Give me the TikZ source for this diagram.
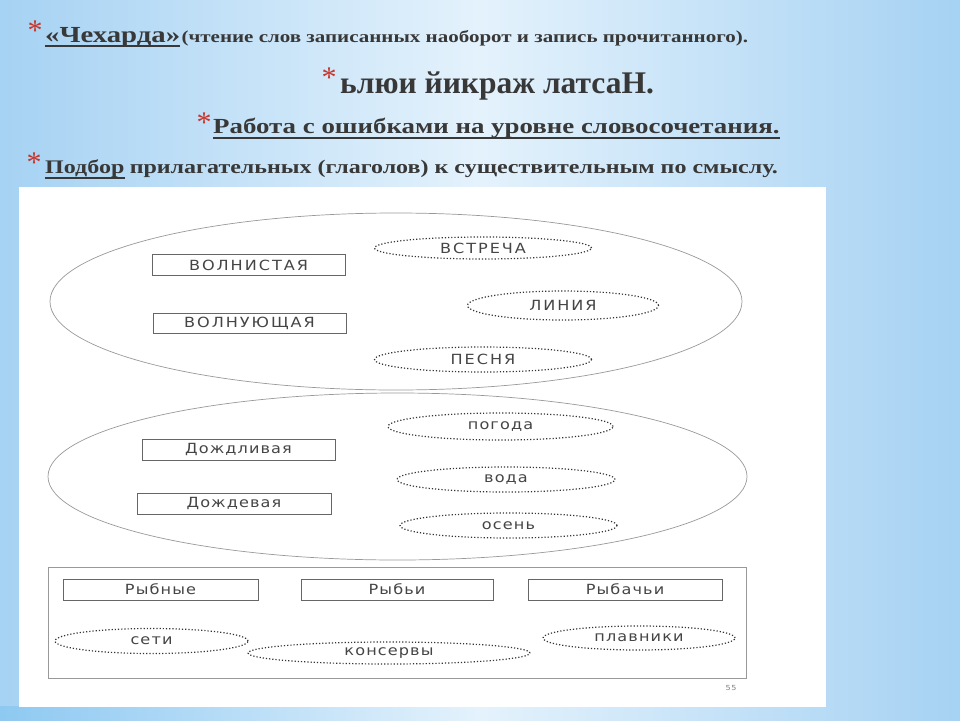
\documentclass[tikz,border=0pt]{standalone}
\usepackage{fontspec}
\setmainfont{Liberation Serif}
\newfontfamily\slidefont[FakeStretch=1.25]{Liberation Serif}
\newfontfamily\scanfont[FakeStretch=1.15,LetterSpace=8]{DejaVu Sans}
\newfontfamily\scancaps[FakeStretch=1.15,LetterSpace=14]{DejaVu Sans}
\usetikzlibrary{positioning, shapes.geometric}

\definecolor{slideblue}{HTML}{A6D2F3}
\definecolor{slidepale}{HTML}{E4F2FC}
\definecolor{bandblue}{HTML}{8EC9F1}
\definecolor{inkgray}{HTML}{383838}
\definecolor{starred}{HTML}{C8352B}
\definecolor{scangray}{HTML}{454545}

\begin{document}
\begin{tikzpicture}[x=1pt,y=-1pt,
        head/.style={inner sep=0pt, anchor=base west, text=inkgray},
        starmark/.style={inner sep=0pt, anchor=base, text=starred, font=\fontsize{30}{30}\selectfont},
        ulink/.style={inkgray, line width=1.6pt},
        word/.style={rectangle, draw=black!60, line width=0.8pt, minimum width=193pt, minimum height=21pt, inner sep=0pt, text=scangray, font=\scanfont\fontsize{14}{16}\selectfont},
        pick/.style={ellipse, draw=black!80, dotted, line width=1.2pt, minimum width=217pt, minimum height=25pt, inner sep=0pt, text=scangray, font=\scanfont\fontsize{14}{16}\selectfont},
        caps/.style={font=\scancaps\fontsize{14}{16}\selectfont},
        oval/.style={ellipse, draw=black!40, line width=0.7pt, inner sep=0pt}]
    \useasboundingbox (0,0) rectangle (960,720);
    % slide background
    \shade[left color=slideblue, right color=slideblue, middle color=slidepale] (0,0) rectangle (960,720);
    \shade[left color=bandblue, right color=slideblue, middle color=slidepale] (0,706) rectangle (960,720);
    \fill[white] (19,187) rectangle (826,707);

    % headings
    \node[head, font=\slidefont\bfseries\fontsize{23}{27}\selectfont] (cheh) at (45,42) {«Чехарда»};
    \node[head, font=\slidefont\bfseries\fontsize{16.8}{21}\selectfont] (chehnote) at ([xshift=1pt]cheh.base east) {(чтение слов записанных наоборот и запись прочитанного).};
    \node[head, font=\bfseries\fontsize{31.5}{35}\selectfont] (mirror) at (340,93) {ьлюи йикраж латсаН.};
    \node[head, font=\slidefont\bfseries\fontsize{21.5}{25}\selectfont] (errwork) at (213,133) {Работа с ошибками на уровне словосочетания.};
    \node[head, font=\slidefont\bfseries\fontsize{19.2}{23}\selectfont] (podbor) at (45,173) {Подбор};
    \node[head, font=\slidefont\bfseries\fontsize{19.2}{23}\selectfont] (podbornote) at ([xshift=5pt]podbor.base east) {прилагательных (глаголов) к существительным по смыслу.};
    \draw[ulink] ([yshift=-4pt]cheh.base west) -- ([yshift=-4pt]cheh.base east);
    \draw[ulink] ([yshift=-5pt]errwork.base west) -- ([yshift=-5pt]errwork.base east);
    \draw[ulink] ([yshift=-5pt]podbor.base west) -- ([yshift=-5pt]podbor.base east);
    \node[starmark] (star1) at (35,40) {*};
    \node[starmark] (star2) at (329,87) {*};
    \node[starmark] (star3) at (204,132) {*};
    \node[starmark] (star4) at (34,172) {*};

    % first group
    \node[oval, minimum width=692pt, minimum height=177pt] (wave) at (396,301.5) {};
    \node[word, caps] (wavy) at (248.5,265) {ВОЛНИСТАЯ};
    \node[word, caps, minimum height=20pt] (waving) at (249.5,323) {ВОЛНУЮЩАЯ};
    \node[pick, caps, minimum height=22pt] (meet) at (483,248) {ВСТРЕЧА};
    \node[pick, caps, minimum width=191pt, minimum height=29pt] (line) at (563,305.5) {ЛИНИЯ};
    \node[pick, caps] (song) at (483,359.5) {ПЕСНЯ};

    % second group
    \node[oval, minimum width=699pt, minimum height=167pt] (rain) at (397.5,476.5) {};
    \node[word] (rainy) at (238.5,449.5) {Дождливая};
    \node[word, minimum width=194pt] (rainw) at (234,503.5) {Дождевая};
    \node[pick, minimum width=225pt, minimum height=27pt] (weather) at (500.5,426.5) {погода};
    \node[pick, minimum width=218pt] (water) at (506,479.5) {вода};
    \node[pick] (autumn) at (508.5,525.5) {осень};

    % third group
    \node[rectangle, draw=black!40, line width=0.7pt, minimum width=698pt, minimum height=111pt] (fish) at (397,622.5) {};
    \node[word, minimum width=195pt] (fishy) at (160.5,589.5) {Рыбные};
    \node[word, minimum width=192pt] (fishs) at (397,589.5) {Рыбьи};
    \node[word, minimum width=194pt] (fisher) at (625,589.5) {Рыбачьи};
    \node[pick, minimum width=193pt, minimum height=25pt] (nets) at (151.5,641) {сети};
    \node[pick, minimum width=282pt, minimum height=22pt] (cans) at (389,653) {консервы};
    \node[pick, minimum width=192pt, minimum height=24pt] (fins) at (639,638) {плавники};
    \node[inner sep=0pt, text=black!50, font=\scanfont\fontsize{7}{8}\selectfont] (page) at (731,688) {55};
\end{tikzpicture}
\end{document}
